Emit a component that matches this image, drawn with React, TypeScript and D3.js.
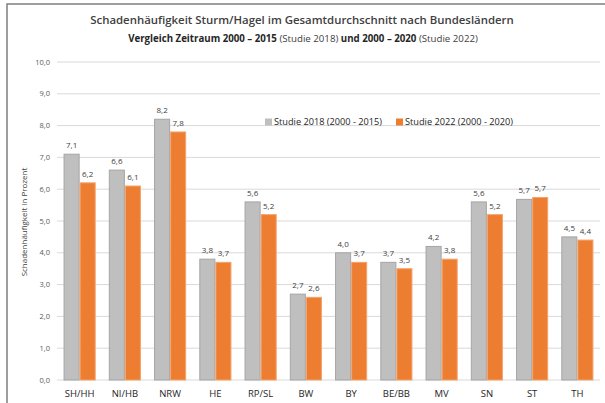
import React from 'react';
import * as d3 from 'd3';

const categories = ['SH/HH', 'NI/HB', 'NRW', 'HE', 'RP/SL', 'BW', 'BY', 'BE/BB', 'MV', 'SN', 'ST', 'TH'];
const studie2018 = [7.1, 6.6, 8.2, 3.8, 5.6, 2.7, 4.0, 3.7, 4.2, 5.6, 5.68, 4.5];
const studie2022 = [6.2, 6.1, 7.8, 3.7, 5.2, 2.6, 3.7, 3.5, 3.8, 5.2, 5.74, 4.4];
const seriesNames = ['Studie 2018 (2000 - 2015)', 'Studie 2022 (2000 - 2020)'];
const yTicks = [0, 1, 2, 3, 4, 5, 6, 7, 8, 9, 10];

const width = 605;
const height = 403;
const plot = { left: 57, right: 600, top: 62, bottom: 380 };
const colors = ['#bfbfbf', '#ed7d31'];
const strokes = ['#a5a5a5', '#f4a36b'];
const font = '"Open Sans", "Noto Sans", sans-serif';

const fmt = (v: number) => v.toFixed(1).replace('.', ',');

const App = () => {
  const x = d3.scaleBand<string>()
    .domain(categories)
    .range([plot.left, plot.right])
    .paddingInner(0.29)
    .paddingOuter(0.145);

  const xSub = d3.scaleBand<number>()
    .domain([0, 1])
    .range([0, x.bandwidth()]);

  const y = d3.scaleLinear()
    .domain([0, 10])
    .range([plot.bottom, plot.top]);

  const series = [studie2018, studie2022];

  return (
    <svg width={width} height={height} style={{ position: 'absolute', left: 0, top: 0, fontFamily: font }}>
      <rect x={0} y={0} width={width} height={height} fill="#fff" />
      <path d={`M7,${height} V4 H${width}`} fill="none" stroke="#7f7f7f" strokeWidth={1.5} />

      <text x={302} y={24} textAnchor="middle" fontSize={11.4} fontWeight={600} fill="#404040">
        Schadenhäufigkeit Sturm/Hagel im Gesamtdurchschnitt nach Bundesländern
      </text>
      <text x={303} y={42} textAnchor="middle" fontSize={9.7} fill="#262626">
        <tspan fontWeight={700}>Vergleich Zeitraum 2000 – 2015</tspan>
        <tspan fill="#404040"> (Studie 2018) </tspan>
        <tspan fontWeight={700}>und 2000 – 2020</tspan>
        <tspan fill="#404040"> (Studie 2022)</tspan>
      </text>

      {yTicks.map(t => (
        <g key={t}>
          <line x1={plot.left} x2={plot.right} y1={y(t)} y2={y(t)} stroke="#d9d9d9" strokeWidth={1} />
          <text x={50} y={y(t)} dy="0.35em" textAnchor="end" fontSize={7.5} fill="#595959">{fmt(t)}</text>
        </g>
      ))}

      <text
        transform={`translate(27, ${(plot.top + plot.bottom) / 2 + 1}) rotate(-90)`}
        textAnchor="middle"
        fontSize={8}
        fill="#404040"
      >
        Schadenhäufigkeit in Prozent
      </text>

      {categories.map((c, i) => (
        <g key={c} transform={`translate(${x(c)},0)`}>
          {series.map((s, j) => (
            <g key={j}>
              <rect
                x={xSub(j)! + 0.5}
                y={y(s[i])}
                width={xSub.bandwidth() - 1}
                height={y(0) - y(s[i])}
                fill={colors[j]}
                stroke={strokes[j]}
                strokeWidth={1}
              />
              <text
                x={xSub(j)! + xSub.bandwidth() / 2}
                y={y(s[i]) - 6}
                textAnchor="middle"
                fontSize={8}
                fill="#404040"
              >
                {fmt(s[i])}
              </text>
            </g>
          ))}
          <text x={x.bandwidth() / 2} y={397} textAnchor="middle" fontSize={9.5} fill="#262626">{c}</text>
        </g>
      ))}

      {seriesNames.map((name, j) => {
        const lx = j === 0 ? 265 : 396;
        return (
          <g key={name} transform={`translate(${lx},122)`}>
            <rect x={0} y={-3.5} width={7} height={7} fill={colors[j]} />
            <text x={9} y={0} dy="0.35em" fontSize={9.2} fill="#262626">{name}</text>
          </g>
        );
      })}
    </svg>
  );
};

export default App;
